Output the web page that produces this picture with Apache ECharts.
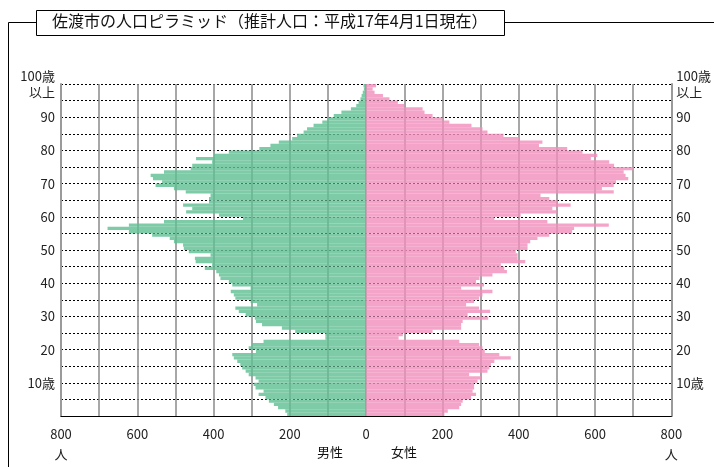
<!DOCTYPE html>
<html><head><meta charset="utf-8">
<script src="https://cdn.jsdelivr.net/npm/echarts@6/dist/echarts.min.js"></script>
<style>html,body{margin:0;padding:0;background:#fff}#c{width:714px;height:467px}</style>
</head><body><div id="c"></div>
<script>
var ages = [];
for (var i = 0; i < 100; i++) ages.push(String(i));
// males by age (0 .. top bar = 100歳以上)
var male = [207,212,231,242,255,264,282,269,290,295,282,290,308,316,325,330,338,347,351,289,
  308,299,269,107,107,186,221,273,289,292,316,334,343,286,303,343,347,355,303,351,
  360,382,386,393,423,404,447,449,408,465,478,480,504,515,561,622,678,622,530,323,
  386,472,456,480,412,412,408,473,504,552,535,559,565,530,460,456,404,446,399,360,
  280,251,229,194,181,164,155,138,115,100,85,65,40,26,20,15,12,9,6,7];
var female = [205,214,244,249,253,275,288,279,283,283,292,301,270,318,323,327,336,379,349,311,
  305,296,244,85,96,174,249,249,253,320,266,325,296,262,283,296,305,331,249,309,
  288,297,331,369,362,353,417,397,397,392,423,423,430,449,480,540,545,636,475,336,
  405,500,488,536,501,480,457,649,618,649,655,687,680,675,702,650,637,589,606,567,
  527,453,462,401,360,318,305,276,218,200,174,153,148,100,83,61,44,22,17,26];
var yTickValues = [10,20,30,40,50,60,70,80,90,100];
var yTickLabels = ['10歳','20','30','40','50','60','70','80','90','100歳\n以上'];
var xTickLabels = ['800\n人','600','400','200','0','200','400','600','800\n人'];
var titleText = '佐渡市の人口ピラミッド（推計人口：平成17年4月1日現在）';

var FONT = "'Noto Sans CJK JP', sans-serif";
function yFmt(v){ var k = yTickValues.indexOf(v); return k >= 0 ? yTickLabels[k] : ''; }
function xFmt(v){ if (v % 200 !== 0) return ''; return xTickLabels[(v + 800) / 200]; }

var chart = echarts.init(document.getElementById('c'), null, {renderer:'canvas'});
chart.setOption({
  animation:false,
  textStyle:{fontFamily:FONT},
  grid:{left:61, right:41, top:84, bottom:51, containLabel:false},
  xAxis:{type:'value', min:-800, max:800, interval:100,
    axisLine:{show:true, onZero:false, lineStyle:{color:'#000', width:1}},
    axisTick:{show:false},
    splitLine:{show:true, lineStyle:{color:'#8a8a8a', width:1.5}},
    axisLabel:{formatter:xFmt, color:'#222', fontSize:13, margin:8, lineHeight:20, fontFamily:FONT, showMinLabel:true, showMaxLabel:true}
  },
  yAxis:[
    {type:'category', data:ages, show:false, boundaryGap:true},
    {type:'value', min:0, max:100, interval:5, position:'left',
      axisLine:{show:true, lineStyle:{color:'#9a9a9a', width:2}},
      axisTick:{show:false},
      splitLine:{show:true, lineStyle:{color:'#000', width:1, type:[2,2]}},
      axisLabel:{formatter:yFmt, color:'#222', fontSize:13, margin:6, lineHeight:16, fontFamily:FONT, showMaxLabel:true}
    },
    {type:'value', min:0, max:100, interval:5, position:'right',
      axisLine:{show:true, lineStyle:{color:'#9a9a9a', width:2}},
      axisTick:{show:false},
      splitLine:{show:false},
      axisLabel:{formatter:yFmt, color:'#222', fontSize:13, margin:5, lineHeight:16, fontFamily:FONT, showMaxLabel:true}
    }
  ],
  series:[
    {name:'男性', type:'bar', yAxisIndex:0, stack:'p', barCategoryGap:'0%',
      itemStyle:{color:'rgba(98,192,149,0.82)'},
      data:male.map(function(v){return -v;})},
    {name:'女性', type:'bar', yAxisIndex:0, stack:'p', barCategoryGap:'0%',
      itemStyle:{color:'rgba(242,144,188,0.82)'},
      data:female}
  ],
  graphic:[
    {type:'line', shape:{x1:8.5,y1:22.5,x2:36,y2:22.5}, style:{stroke:'#000', lineWidth:1}},
    {type:'line', shape:{x1:505,y1:22.5,x2:714,y2:22.5}, style:{stroke:'#000', lineWidth:1}},
    {type:'line', shape:{x1:8.5,y1:22.5,x2:8.5,y2:467}, style:{stroke:'#000', lineWidth:1}},
    {type:'rect', shape:{x:36.5,y:10.5,width:468,height:25}, style:{fill:'#fff', stroke:'#000', lineWidth:1}},
    {type:'text', left:52, top:13, style:{text:titleText, font:"16px "+FONT, fill:'#111'}},
    {type:'text', left:317, top:446, style:{text:'男性', font:"13px "+FONT, fill:'#111'}},
    {type:'text', left:391, top:446, style:{text:'女性', font:"13px "+FONT, fill:'#111'}}
  ]
});
</script></body></html>
